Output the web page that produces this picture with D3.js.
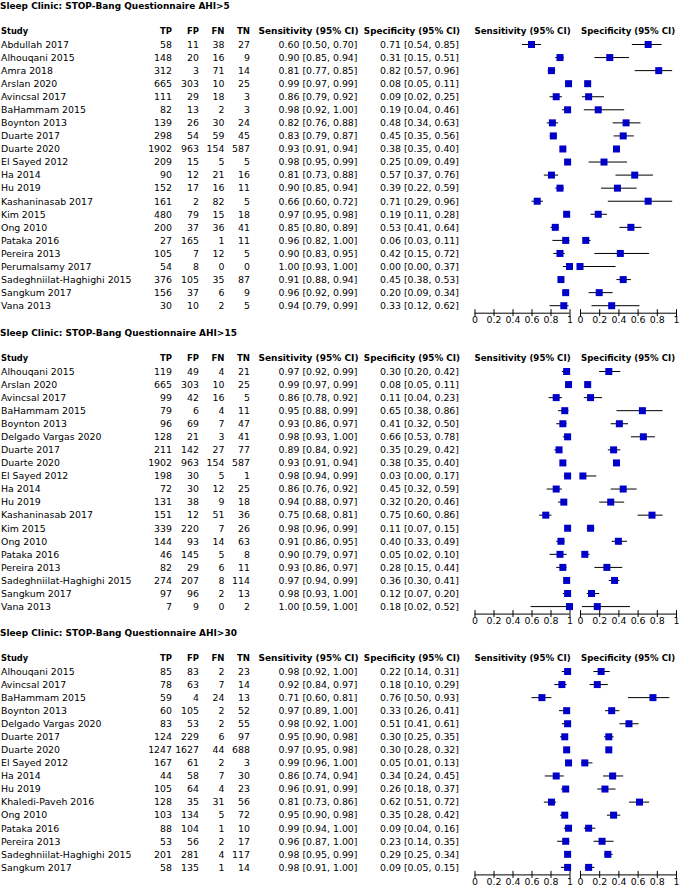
<!DOCTYPE html>
<html>
<head>
<meta charset="utf-8">
<script src="https://cdn.jsdelivr.net/npm/d3@7"></script>
<style>
  html, body { margin: 0; padding: 0; background: #fff; }
  svg { display: block; }
  text { font-family: "DejaVu Sans", sans-serif; font-size: 9.4px; fill: #000; }
  .bold { font-weight: bold; }
</style>
</head>
<body>
<svg id="chart" width="680" height="887"></svg>
<script>
// ---- DATA ----
const panelTitles = [
  "Sleep Clinic: STOP-Bang Questionnaire AHI>5",
  "Sleep Clinic: STOP-Bang Questionnaire AHI>15",
  "Sleep Clinic: STOP-Bang Questionnaire AHI>30"
];
const columnHeaders = ["Study", "TP", "FP", "FN", "TN", "Sensitivity (95% CI)", "Specificity (95% CI)"];
const plotHeaders = ["Sensitivity (95% CI)", "Specificity (95% CI)"];
const tickValues = [0, 0.2, 0.4, 0.6, 0.8, 1];
const tickLabels = ["0", "0.2", "0.4", "0.6", "0.8", "1"];

// [study, TP, FP, FN, TN, sens, sensLo, sensHi, spec, specLo, specHi]
const rowsAHI5 = [
  ["Abdullah 2017", 58, 11, 38, 27, 0.60, 0.50, 0.70, 0.71, 0.54, 0.85],
  ["Alhouqani 2015", 148, 20, 16, 9, 0.90, 0.85, 0.94, 0.31, 0.15, 0.51],
  ["Amra 2018", 312, 3, 71, 14, 0.81, 0.77, 0.85, 0.82, 0.57, 0.96],
  ["Arslan 2020", 665, 303, 10, 25, 0.99, 0.97, 0.99, 0.08, 0.05, 0.11],
  ["Avincsal 2017", 111, 29, 18, 3, 0.86, 0.79, 0.92, 0.09, 0.02, 0.25],
  ["BaHammam 2015", 82, 13, 2, 3, 0.98, 0.92, 1.00, 0.19, 0.04, 0.46],
  ["Boynton 2013", 139, 26, 30, 24, 0.82, 0.76, 0.88, 0.48, 0.34, 0.63],
  ["Duarte 2017", 298, 54, 59, 45, 0.83, 0.79, 0.87, 0.45, 0.35, 0.56],
  ["Duarte 2020", 1902, 963, 154, 587, 0.93, 0.91, 0.94, 0.38, 0.35, 0.40],
  ["El Sayed 2012", 209, 15, 5, 5, 0.98, 0.95, 0.99, 0.25, 0.09, 0.49],
  ["Ha 2014", 90, 12, 21, 16, 0.81, 0.73, 0.88, 0.57, 0.37, 0.76],
  ["Hu 2019", 152, 17, 16, 11, 0.90, 0.85, 0.94, 0.39, 0.22, 0.59],
  ["Kashaninasab 2017", 161, 2, 82, 5, 0.66, 0.60, 0.72, 0.71, 0.29, 0.96],
  ["Kim 2015", 480, 79, 15, 18, 0.97, 0.95, 0.98, 0.19, 0.11, 0.28],
  ["Ong 2010", 200, 37, 36, 41, 0.85, 0.80, 0.89, 0.53, 0.41, 0.64],
  ["Pataka 2016", 27, 165, 1, 11, 0.96, 0.82, 1.00, 0.06, 0.03, 0.11],
  ["Pereira 2013", 105, 7, 12, 5, 0.90, 0.83, 0.95, 0.42, 0.15, 0.72],
  ["Perumalsamy 2017", 54, 8, 0, 0, 1.00, 0.93, 1.00, 0.00, 0.00, 0.37],
  ["Sadeghniilat-Haghighi 2015", 376, 105, 35, 87, 0.91, 0.88, 0.94, 0.45, 0.38, 0.53],
  ["Sangkum 2017", 156, 37, 6, 9, 0.96, 0.92, 0.99, 0.20, 0.09, 0.34],
  ["Vana 2013", 30, 10, 2, 5, 0.94, 0.79, 0.99, 0.33, 0.12, 0.62]
];
const rowsAHI15 = [
  ["Alhouqani 2015", 119, 49, 4, 21, 0.97, 0.92, 0.99, 0.30, 0.20, 0.42],
  ["Arslan 2020", 665, 303, 10, 25, 0.99, 0.97, 0.99, 0.08, 0.05, 0.11],
  ["Avincsal 2017", 99, 42, 16, 5, 0.86, 0.78, 0.92, 0.11, 0.04, 0.23],
  ["BaHammam 2015", 79, 6, 4, 11, 0.95, 0.88, 0.99, 0.65, 0.38, 0.86],
  ["Boynton 2013", 96, 69, 7, 47, 0.93, 0.86, 0.97, 0.41, 0.32, 0.50],
  ["Delgado Vargas 2020", 128, 21, 3, 41, 0.98, 0.93, 1.00, 0.66, 0.53, 0.78],
  ["Duarte 2017", 211, 142, 27, 77, 0.89, 0.84, 0.92, 0.35, 0.29, 0.42],
  ["Duarte 2020", 1902, 963, 154, 587, 0.93, 0.91, 0.94, 0.38, 0.35, 0.40],
  ["El Sayed 2012", 198, 30, 5, 1, 0.98, 0.94, 0.99, 0.03, 0.00, 0.17],
  ["Ha 2014", 72, 30, 12, 25, 0.86, 0.76, 0.92, 0.45, 0.32, 0.59],
  ["Hu 2019", 131, 38, 9, 18, 0.94, 0.88, 0.97, 0.32, 0.20, 0.46],
  ["Kashaninasab 2017", 151, 12, 51, 36, 0.75, 0.68, 0.81, 0.75, 0.60, 0.86],
  ["Kim 2015", 339, 220, 7, 26, 0.98, 0.96, 0.99, 0.11, 0.07, 0.15],
  ["Ong 2010", 144, 93, 14, 63, 0.91, 0.86, 0.95, 0.40, 0.33, 0.49],
  ["Pataka 2016", 46, 145, 5, 8, 0.90, 0.79, 0.97, 0.05, 0.02, 0.10],
  ["Pereira 2013", 82, 29, 6, 11, 0.93, 0.86, 0.97, 0.28, 0.15, 0.44],
  ["Sadeghniilat-Haghighi 2015", 274, 207, 8, 114, 0.97, 0.94, 0.99, 0.36, 0.30, 0.41],
  ["Sangkum 2017", 97, 96, 2, 13, 0.98, 0.93, 1.00, 0.12, 0.07, 0.20],
  ["Vana 2013", 7, 9, 0, 2, 1.00, 0.59, 1.00, 0.18, 0.02, 0.52]
];
const rowsAHI30 = [
  ["Alhouqani 2015", 85, 83, 2, 23, 0.98, 0.92, 1.00, 0.22, 0.14, 0.31],
  ["Avincsal 2017", 78, 63, 7, 14, 0.92, 0.84, 0.97, 0.18, 0.10, 0.29],
  ["BaHammam 2015", 59, 4, 24, 13, 0.71, 0.60, 0.81, 0.76, 0.50, 0.93],
  ["Boynton 2013", 60, 105, 2, 52, 0.97, 0.89, 1.00, 0.33, 0.26, 0.41],
  ["Delgado Vargas 2020", 83, 53, 2, 55, 0.98, 0.92, 1.00, 0.51, 0.41, 0.61],
  ["Duarte 2017", 124, 229, 6, 97, 0.95, 0.90, 0.98, 0.30, 0.25, 0.35],
  ["Duarte 2020", 1247, 1627, 44, 688, 0.97, 0.95, 0.98, 0.30, 0.28, 0.32],
  ["El Sayed 2012", 167, 61, 2, 3, 0.99, 0.96, 1.00, 0.05, 0.01, 0.13],
  ["Ha 2014", 44, 58, 7, 30, 0.86, 0.74, 0.94, 0.34, 0.24, 0.45],
  ["Hu 2019", 105, 64, 4, 23, 0.96, 0.91, 0.99, 0.26, 0.18, 0.37],
  ["Khaledi-Paveh 2016", 128, 35, 31, 56, 0.81, 0.73, 0.86, 0.62, 0.51, 0.72],
  ["Ong 2010", 103, 134, 5, 72, 0.95, 0.90, 0.98, 0.35, 0.28, 0.42],
  ["Pataka 2016", 88, 104, 1, 10, 0.99, 0.94, 1.00, 0.09, 0.04, 0.16],
  ["Pereira 2013", 53, 56, 2, 17, 0.96, 0.87, 1.00, 0.23, 0.14, 0.35],
  ["Sadeghniilat-Haghighi 2015", 201, 281, 4, 117, 0.98, 0.95, 0.99, 0.29, 0.25, 0.34],
  ["Sangkum 2017", 58, 135, 1, 14, 0.98, 0.91, 1.00, 0.09, 0.05, 0.15]
];
const panels = [rowsAHI5, rowsAHI15, rowsAHI30];

// ---- LAYOUT ----
const panelTop = [6, 333, 633];
const titleWidth = [230, 237, 237];
const rowStep = 13.06;
const colX = { study: 1, tp: 172, fp: 199, fn: 224.5, tn: 250, sens: 357.5, spec: 459 };
const xSens = d3.scaleLinear().domain([0, 1]).range([474.5, 569.5]);
const xSpec = d3.scaleLinear().domain([0, 1]).range([580, 676]);
const fmt = d3.format(".2f");
const ci = (v, lo, hi) => `${fmt(v)} [${fmt(lo)}, ${fmt(hi)}]`;
const sq = 7;
const blue = "#0000c8";

const svg = d3.select("#chart");

// shrink a text's font size so it fits a target width
function fit(sel, w) {
  sel.each(function () {
    const len = this.getComputedTextLength();
    if (len > w) {
      const fs = parseFloat(getComputedStyle(this).fontSize);
      d3.select(this).style("font-size", (fs * w / len).toFixed(2) + "px");
    }
  });
}

panels.forEach((rows, p) => {
  const top = panelTop[p];
  const g = svg.append("g");
  const headerY = top + 25;
  const firstY = top + 38.5;
  const yRow = i => firstY + i * rowStep;

  const t = g.append("text").attr("class", "bold").attr("x", 0).attr("y", top).attr("dy", "0.35em")
    .style("font-size", "9.8px").text(panelTitles[p]);
  fit(t, titleWidth[p]);

  const hdr = [
    [columnHeaders[0], colX.study, "start", 27],
    [columnHeaders[1], colX.tp, "end", 12],
    [columnHeaders[2], colX.fp, "end", 12],
    [columnHeaders[3], colX.fn, "end", 13],
    [columnHeaders[4], colX.tn, "end", 13],
    [columnHeaders[5], colX.sens + 1, "end", 100],
    [columnHeaders[6], colX.spec + 1, "end", 96],
    [plotHeaders[0], xSens.range()[0], "start", 96],
    [plotHeaders[1], xSpec.range()[0] + 1, "start", 94]
  ];
  g.selectAll("text.hdr").data(hdr).join("text")
    .attr("class", "hdr bold").attr("x", d => d[1]).attr("y", headerY).attr("dy", "0.35em")
    .attr("text-anchor", d => d[2]).text(d => d[0])
    .each(function (d) { fit(d3.select(this), d[3]); });

  const row = g.selectAll("g.row").data(rows).join("g").attr("class", "row")
    .attr("transform", (d, i) => `translate(0,${yRow(i)})`);

  row.append("text").attr("x", colX.study).attr("dy", "0.35em").text(d => d[0]);
  [["tp", 1], ["fp", 2], ["fn", 3], ["tn", 4]].forEach(([k, idx]) => {
    row.append("text").attr("x", colX[k]).attr("dy", "0.35em").attr("text-anchor", "end").text(d => d[idx]);
  });
  row.append("text").attr("x", colX.sens).attr("dy", "0.35em").attr("text-anchor", "end")
    .text(d => ci(d[5], d[6], d[7]));
  row.append("text").attr("x", colX.spec).attr("dy", "0.35em").attr("text-anchor", "end")
    .text(d => ci(d[8], d[9], d[10]));

  // CI lines
  row.append("line").attr("x1", d => xSens(d[6])).attr("x2", d => xSens(d[7]))
    .attr("stroke", "#000").attr("stroke-width", 1);
  row.append("line").attr("x1", d => xSpec(d[9])).attr("x2", d => xSpec(d[10]))
    .attr("stroke", "#000").attr("stroke-width", 1);
  // squares
  row.append("rect").attr("x", d => xSens(d[5]) - sq / 2).attr("y", -sq / 2)
    .attr("width", sq).attr("height", sq).attr("fill", blue);
  row.append("rect").attr("x", d => xSpec(d[8]) - sq / 2).attr("y", -sq / 2)
    .attr("width", sq).attr("height", sq).attr("fill", blue);

  // axes
  const axisY = yRow(rows.length - 1) + 7.5;
  [xSens, xSpec].forEach(sc => {
    const ax = g.append("g").attr("transform", `translate(0,${axisY})`)
      .call(d3.axisBottom(sc).tickValues(tickValues).tickFormat((d, i) => tickLabels[i]).tickSize(0).tickPadding(7));
    ax.select(".domain").attr("stroke", "#000").attr("d", `M${sc.range()[0]},0H${sc.range()[1]}`);
    ax.selectAll(".tick line").attr("y1", -4).attr("y2", 3).attr("stroke", "#000");
    ax.selectAll(".tick text").attr("font-family", null).attr("font-size", null)
      .style("font-size", "9.4px").attr("dy", "0.35em").attr("y", 7);
  });
});
</script>
</body>
</html>
